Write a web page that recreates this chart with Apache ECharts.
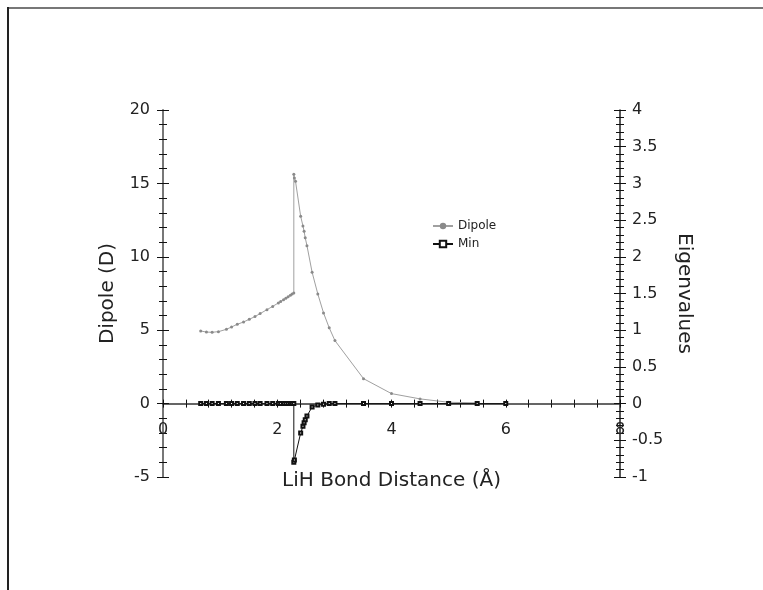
<!DOCTYPE html>
<html>
<head>
<meta charset="utf-8">
<script src="https://cdn.jsdelivr.net/npm/echarts@6/dist/echarts.min.js"></script>
<style>
  html, body { margin: 0; padding: 0; background: #fff; }
  #chart { width: 763px; height: 590px; }
</style>
</head>
<body>
<div id="chart"></div>
<script>
// bond distance (Å) and dipole (D)
var dipoleX = [0.66, 0.76, 0.86, 0.97, 1.11, 1.20, 1.30, 1.41, 1.51, 1.61,
               1.70, 1.82, 1.92, 2.02, 2.06, 2.11, 2.15, 2.19, 2.23, 2.26,
               2.29, 2.29, 2.30, 2.32, 2.41, 2.45, 2.47, 2.49, 2.52, 2.61,
               2.71, 2.81, 2.91, 3.01, 3.51, 4.00, 4.50, 5.00, 5.50];
var dipoleY = [4.95, 4.87, 4.86, 4.90, 5.06, 5.22, 5.40, 5.56, 5.74, 5.93,
               6.13, 6.40, 6.62, 6.86, 6.96, 7.08, 7.18, 7.28, 7.38, 7.46,
               7.54, 15.62, 15.37, 15.14, 12.76, 12.10, 11.74, 11.29, 10.76, 8.95,
               7.47, 6.18, 5.16, 4.29, 1.70, 0.68, 0.32, 0.09, 0.05];

// bond distance (Å) and minimum eigenvalue
var minX = [0.66, 0.76, 0.86, 0.97, 1.11, 1.20, 1.30, 1.41, 1.51, 1.61,
            1.70, 1.82, 1.92, 2.02, 2.06, 2.11, 2.15, 2.19, 2.23, 2.26,
            2.29, 2.29, 2.30, 2.41, 2.45, 2.47, 2.49, 2.52, 2.61, 2.71,
            2.81, 2.91, 3.01, 3.51, 4.00, 4.50, 5.00, 5.50, 6.00];
var minY = [0, 0, 0, 0, 0, 0, 0, 0, 0, 0,
            0, 0, 0, 0, 0, 0, 0, 0, 0, 0,
            0, -0.80, -0.77, -0.40, -0.31, -0.26, -0.22, -0.17, -0.045, -0.02,
            -0.01, 0, 0, 0, 0, 0, 0, 0, 0];

var FONT = 'DejaVu Sans';

function pairs(xs, ys) {
    return xs.map(function (x, i) { return [x, ys[i]]; });
}

var chart = echarts.init(document.getElementById('chart'));

var tickStyle = {color: '#111', width: 1};

var option = {
    backgroundColor: '#fff',
    animation: false,
    textStyle: {fontFamily: FONT},
    graphic: [
        {type: 'line', shape: {x1: 8, y1: 8, x2: 763, y2: 8}, style: {stroke: '#777', lineWidth: 2}},
        {type: 'line', shape: {x1: 8, y1: 7, x2: 8, y2: 590}, style: {stroke: '#222', lineWidth: 2}}
    ],
    legend: {
        left: 427,
        top: 215,
        orient: 'vertical',
        itemWidth: 20,
        itemHeight: 8,
        itemGap: 6,
        textStyle: {fontSize: 12, color: '#222', fontFamily: FONT},
        data: ['Dipole', 'Min']
    },
    // grid 0 holds the data; grid 1 only carries the x labels, its bottom edge sits on y = 0
    grid: [
        {left: 163, right: 143, top: 110, bottom: 113},
        {left: 163, right: 143, top: 110, bottom: 186}
    ],
    xAxis: [{
        type: 'value',
        gridIndex: 0,
        position: 'bottom',
        min: 0, max: 8, interval: 2,
        axisLine: {onZero: true, lineStyle: {color: '#333', width: 1.5}},
        axisTick: {length: 4, lineStyle: tickStyle},
        minorTick: {show: true, splitNumber: 5, length: 4, lineStyle: tickStyle},
        axisLabel: {show: false},
        splitLine: {show: false}
    }, {
        type: 'value',
        gridIndex: 0,
        position: 'top',
        min: 0, max: 8, interval: 2,
        axisLine: {onZero: true, show: false},
        axisTick: {length: 4, lineStyle: tickStyle},
        minorTick: {show: true, splitNumber: 5, length: 4, lineStyle: tickStyle},
        axisLabel: {show: false},
        splitLine: {show: false}
    }, {
        type: 'value',
        gridIndex: 1,
        position: 'bottom',
        min: 0, max: 8, interval: 2,
        name: 'LiH Bond Distance (Å)',
        nameLocation: 'middle',
        nameGap: 67,
        nameTextStyle: {fontSize: 20, color: '#222', fontFamily: FONT},
        axisLine: {show: false, onZero: false},
        axisTick: {show: false},
        axisLabel: {fontSize: 16, color: '#222', margin: 18},
        splitLine: {show: false}
    }],
    yAxis: [{
        type: 'value',
        gridIndex: 0,
        position: 'left',
        min: -5, max: 20, interval: 5,
        name: 'Dipole (D)',
        nameLocation: 'middle',
        nameGap: 45,
        nameTextStyle: {fontSize: 20, color: '#222', fontFamily: FONT},
        axisLine: {show: true, onZero: false, lineStyle: {color: '#777', width: 2}},
        axisTick: {length: 6, lineStyle: tickStyle},
        minorTick: {show: true, splitNumber: 5, length: 4, lineStyle: tickStyle},
        axisLabel: {fontSize: 16, color: '#222', margin: 13},
        splitLine: {show: false}
    }, {
        type: 'value',
        gridIndex: 0,
        position: 'right',
        min: -1, max: 4, interval: 0.5,
        name: 'Eigenvalues',
        nameLocation: 'middle',
        nameGap: 50,
        nameRotate: -90,
        nameTextStyle: {fontSize: 20, color: '#222', fontFamily: FONT},
        axisLine: {show: true, onZero: false, lineStyle: {color: '#222', width: 1.5}},
        axisTick: {length: 6, lineStyle: tickStyle},
        minorTick: {show: true, splitNumber: 5, length: 4, lineStyle: tickStyle},
        axisLabel: {fontSize: 16, color: '#222', margin: 12},
        splitLine: {show: false}
    }, {
        type: 'value',
        gridIndex: 0,
        position: 'left',
        min: -5, max: 20, interval: 5,
        axisLine: {show: false, onZero: false},
        axisTick: {inside: true, length: 6, lineStyle: tickStyle},
        minorTick: {show: true, splitNumber: 5, length: 4, lineStyle: tickStyle},
        axisLabel: {show: false},
        splitLine: {show: false}
    }, {
        type: 'value',
        gridIndex: 0,
        position: 'right',
        min: -1, max: 4, interval: 0.5,
        axisLine: {show: false, onZero: false},
        axisTick: {inside: true, length: 6, lineStyle: tickStyle},
        minorTick: {show: true, splitNumber: 5, length: 4, lineStyle: tickStyle},
        axisLabel: {show: false},
        splitLine: {show: false}
    }, {
        type: 'value',
        gridIndex: 1,
        min: 0, max: 1,
        show: false
    }],
    series: [{
        name: 'Dipole',
        type: 'line',
        xAxisIndex: 0,
        yAxisIndex: 0,
        symbol: 'circle',
        symbolSize: 3,
        itemStyle: {color: '#8a8a8a'},
        lineStyle: {color: '#a0a0a0', width: 1},
        data: pairs(dipoleX, dipoleY),
        z: 3
    }, {
        name: 'Min',
        type: 'line',
        xAxisIndex: 0,
        yAxisIndex: 1,
        symbol: 'emptyRect',
        symbolSize: 3,
        itemStyle: {color: '#111', borderColor: '#111', borderWidth: 1},
        lineStyle: {color: '#111', width: 1},
        data: pairs(minX, minY),
        z: 4
    }]
};

chart.setOption(option);
</script>
</body>
</html>
